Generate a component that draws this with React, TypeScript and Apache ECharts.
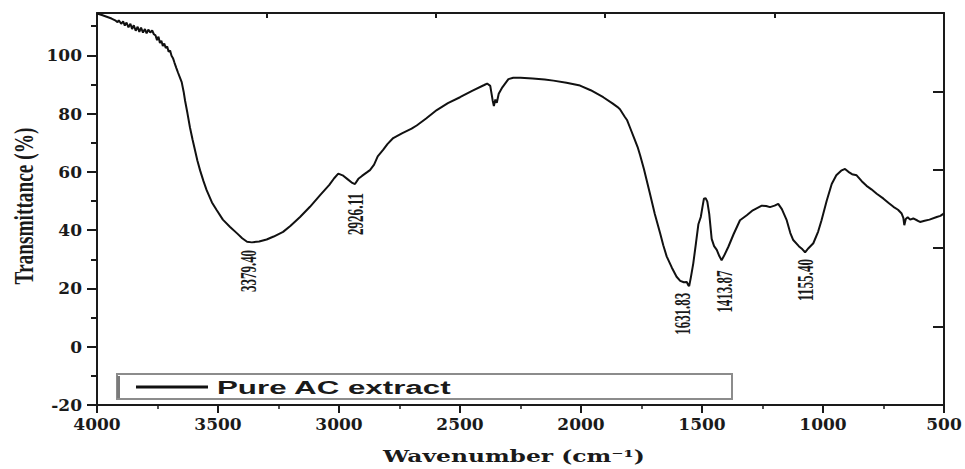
import React, { useEffect, useRef } from "react";
import * as echarts from "echarts";

// ---- data ----
const wavenumbers = [
  4000, 3980, 3960, 3940, 3925, 3915, 3910, 3900, 3892, 3885, 3878, 3870, 3862, 3855, 3848, 3840,
  3832, 3825, 3818, 3810, 3802, 3795, 3788, 3780, 3772, 3765, 3758, 3752, 3746, 3740, 3734, 3728,
  3722, 3716, 3710, 3704, 3698, 3692, 3686, 3680, 3672, 3665, 3658, 3650, 3642, 3636, 3626, 3616,
  3605, 3595, 3585, 3574, 3560, 3547, 3525, 3505, 3480, 3450, 3420, 3400, 3380, 3360, 3330, 3299,
  3270, 3231, 3200, 3161, 3120, 3078, 3040, 3020, 3003, 2985, 2965, 2945, 2934, 2920, 2905, 2885,
  2872, 2855, 2840, 2817, 2800, 2776, 2740, 2700, 2679, 2640, 2596, 2550, 2500, 2450, 2400, 2388,
  2375, 2365, 2360, 2354, 2348, 2340, 2325, 2300, 2280, 2250, 2200, 2150, 2114, 2060, 2004, 1960,
  1908, 1870, 1850, 1839, 1820, 1810, 1798, 1780, 1766, 1756, 1740, 1715, 1695, 1673, 1660, 1646,
  1625, 1605, 1590, 1575, 1563, 1556, 1553, 1546, 1536, 1525, 1515, 1505, 1498, 1492, 1485, 1478,
  1470, 1460, 1450, 1439, 1428, 1419, 1410, 1391, 1370, 1343, 1315, 1290, 1253, 1235, 1219, 1200,
  1185, 1170, 1150, 1135, 1123, 1100, 1085, 1074, 1060, 1040, 1020, 1006, 985, 964, 945, 925,
  909, 895, 880, 861, 840, 820, 800, 778, 750, 730, 709, 690, 675, 668, 664, 658,
  650, 640, 627, 610, 599, 580, 560, 530, 515, 503, 500,
];
const transmittance = [
  114.3, 113.8, 113.2, 112.6, 112.0, 111.3, 112.0, 110.8, 111.6, 110.2, 111.2, 109.6, 110.8, 109.0, 110.3, 108.4,
  109.8, 108.0, 109.5, 107.8, 109.0, 107.5, 108.8, 107.8, 108.5, 107.2, 106.8, 105.2, 106.4, 104.2, 105.0, 103.2,
  104.0, 102.5, 103.0, 101.2, 101.6, 99.8, 99.0, 97.5, 95.6, 94.0, 92.5, 90.8, 87.5, 84.4, 80.0, 75.3,
  71.0, 67.4, 63.8, 60.5, 56.8, 53.7, 49.5, 46.8, 43.6, 41.1, 38.8, 37.2, 36.0, 35.8, 36.1, 36.8,
  37.8, 39.4, 41.5, 44.5, 48.0, 52.0, 55.5, 57.8, 59.4, 58.8, 57.5, 56.2, 55.8, 57.6, 58.6, 59.8,
  60.6, 62.5, 65.3, 67.6, 69.5, 71.6, 73.2, 74.8, 75.9, 78.3, 81.2, 83.6, 85.6, 87.8, 89.8, 90.3,
  89.5, 84.5, 82.6, 84.8, 83.7, 86.8, 89.0, 91.8, 92.3, 92.3, 92.0, 91.7, 91.3, 90.6, 89.6, 88.0,
  85.6, 83.5, 82.3, 81.5, 79.0, 77.8, 75.3, 71.5, 68.5, 65.8, 61.0, 52.5, 45.5, 38.9, 34.8, 31.0,
  27.2, 24.0, 22.6, 22.1, 22.2, 21.0, 20.8, 23.8, 28.6, 35.5, 42.0, 44.5, 48.0, 50.8, 51.0, 49.8,
  45.5, 37.0, 34.5, 33.2, 31.0, 29.7, 31.0, 34.3, 38.5, 43.4, 45.1, 46.8, 48.4, 48.3, 47.9, 48.4,
  49.0, 47.2, 43.4, 39.0, 36.6, 34.5, 33.4, 32.4, 33.8, 35.5, 39.5, 43.4, 50.0, 55.8, 58.8, 60.4,
  61.0, 60.0, 59.2, 58.8, 56.8, 55.2, 54.0, 52.5, 50.8, 49.4, 48.0, 47.0, 45.7, 44.2, 41.7, 43.8,
  44.4, 43.6, 44.0, 43.3, 42.8, 43.2, 43.6, 44.5, 44.9, 45.6, 45.8,
];

const seriesName = "Pure AC extract";
const peakLabels = ["3379.40", "2926.11", "1631.83", "1413.87", "1155.40"];
const peakLabelWavenumber = [3378, 2934, 1584, 1409, 1074];
const peakLabelTransmittance = [26.0, 45.5, 11.3, 18.9, 22.9];

const yMajorTicks = [-20, 0, 20, 40, 60, 80, 100];
const yMinorTicks = [-10, 10, 30, 50, 70, 90, 110];
const xTitle = "Wavenumber (cm\u207B\u00B9)";
const yTitle = "Transmittance (%)";

const INK = "#1a1a1a";

let measureCtx: CanvasRenderingContext2D | null = null;
function textWidth(text: string, font: string): number {
  if (!measureCtx) measureCtx = document.createElement("canvas").getContext("2d");
  if (!measureCtx) return 1;
  measureCtx.font = font;
  return measureCtx.measureText(text).width || 1;
}

function fittedText(text: string, font: string, targetLen: number, x: number, y: number, rotation: number, align = "center") {
  return {
    type: "text",
    x,
    y,
    rotation,
    scaleX: targetLen / textWidth(text, font),
    scaleY: 1,
    silent: true,
    z: 10,
    style: {
      text,
      font,
      fill: INK,
      align,
      verticalAlign: "middle",
      textAlign: align,
      textVerticalAlign: "middle",
    },
  };
}

export default function App() {
  const ref = useRef<HTMLDivElement>(null);

  useEffect(() => {
    if (!ref.current) return;
    const chart = echarts.init(ref.current, null, { renderer: "svg" });
    const data = wavenumbers.map((w, i) => [w, transmittance[i]]);
    const axisLineStyle = { color: INK, width: 2 };
    const labelFont = {
      color: INK,
      fontFamily: "DejaVu Serif",
      fontWeight: "bold" as const,
      fontSize: 17,
      formatter: (v: number) => String(v),
    };

    chart.setOption({
      animation: false,
      backgroundColor: "#ffffff",
      grid: { left: 97, right: 21, top: 13, bottom: 64, containLabel: false },
      xAxis: [
        {
          type: "value",
          min: 500,
          max: 4000,
          interval: 500,
          inverse: true,
          position: "bottom",
          axisLine: { show: true, onZero: false, lineStyle: axisLineStyle },
          axisTick: { show: true, length: 8, lineStyle: { color: INK, width: 2 } },
          minorTick: { show: true, splitNumber: 2, length: 4, lineStyle: { color: INK, width: 1.5 } },
          splitLine: { show: false },
          axisLabel: { ...labelFont, margin: 10 },
        },
        {
          type: "value",
          min: 0,
          max: 5,
          interval: 1,
          position: "top",
          axisLine: { show: true, onZero: false, lineStyle: axisLineStyle },
          axisTick: { show: true, inside: true, length: 5, lineStyle: { color: INK, width: 2 } },
          axisLabel: { show: false },
          splitLine: { show: false },
        },
      ],
      yAxis: [
        {
          type: "value",
          min: -20,
          max: 114.5,
          interval: 20,
          position: "left",
          axisLine: { show: true, onZero: false, lineStyle: axisLineStyle },
          axisTick: { show: true, length: 10, customValues: yMajorTicks, lineStyle: { color: INK, width: 2 } },
          axisLabel: { ...labelFont, margin: 15, customValues: yMajorTicks },
          splitLine: { show: false },
        },
        {
          type: "value",
          min: -20,
          max: 114.5,
          position: "left",
          axisLine: { show: false, onZero: false },
          axisTick: { show: true, length: 6, customValues: yMinorTicks, lineStyle: { color: INK, width: 2 } },
          axisLabel: { show: false },
          splitLine: { show: false },
        },
        {
          type: "value",
          min: 0,
          max: 5,
          interval: 1,
          position: "right",
          axisLine: { show: true, onZero: false, lineStyle: axisLineStyle },
          axisTick: { show: true, inside: true, length: 11, lineStyle: { color: INK, width: 2 } },
          axisLabel: { show: false },
          splitLine: { show: false },
        },
      ],
      series: [
        {
          type: "line",
          name: seriesName,
          data,
          xAxisIndex: 0,
          yAxisIndex: 0,
          symbol: "none",
          smooth: false,
          lineStyle: { color: "#111111", width: 2 },
          z: 3,
        },
      ],
    });

    const graphics: any[] = [];
    // peak annotations, placed through the chart's own scales
    peakLabels.forEach((label, i) => {
      const p = chart.convertToPixel({ xAxisIndex: 0, yAxisIndex: 0 }, [
        peakLabelWavenumber[i],
        peakLabelTransmittance[i],
      ]) as number[];
      graphics.push(fittedText(label, 'bold 24px "Liberation Serif"', 42, p[0], p[1], Math.PI / 2));
    });
    // axis titles
    graphics.push(fittedText(yTitle, 'bold 28px "Liberation Serif"', 157, 24, 206, Math.PI / 2));
    graphics.push(fittedText(xTitle, 'bold 16px "DejaVu Serif"', 262, 514, 456, 0));
    // legend box
    graphics.push({
      type: "rect",
      silent: true,
      z: 5,
      shape: { x: 117, y: 374, width: 615, height: 25 },
      style: { fill: "#ffffff", stroke: "#8c8c8c", lineWidth: 2 },
    });
    graphics.push({
      type: "line",
      silent: true,
      z: 6,
      shape: { x1: 118.5, y1: 376, x2: 118.5, y2: 398 },
      style: { stroke: "#7a7a7a", lineWidth: 3 },
    });
    graphics.push({
      type: "line",
      silent: true,
      z: 6,
      shape: { x1: 136, y1: 387, x2: 208, y2: 387 },
      style: { stroke: "#111111", lineWidth: 3 },
    });
    graphics.push(fittedText(seriesName, 'bold 19px "Liberation Sans"', 235, 217, 387, 0, "left"));

    chart.setOption({ graphic: graphics });

    return () => chart.dispose();
  }, []);

  return (
    <div
      ref={ref}
      style={{ position: "fixed", left: 0, top: 0, width: 965, height: 469, background: "#fff" }}
    />
  );
}
